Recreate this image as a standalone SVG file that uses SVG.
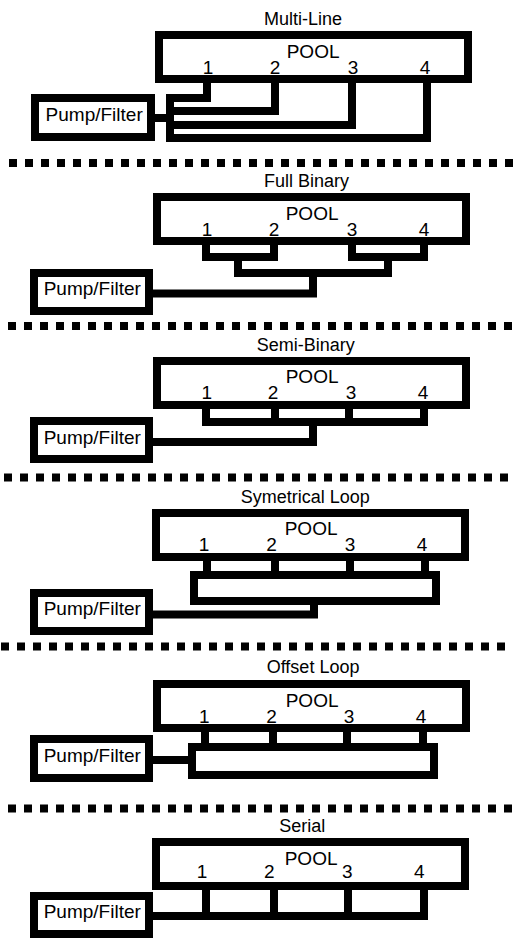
<svg xmlns="http://www.w3.org/2000/svg" width="520" height="938" viewBox="0 0 520 938">
<style>
.box{fill:none;stroke:#000;stroke-width:8}
.pipe{fill:none;stroke:#000;stroke-width:8;stroke-linejoin:miter;stroke-linecap:butt}
.sep{fill:none;stroke:#000;stroke-width:8;stroke-dasharray:8 8}
text{font-family:"Liberation Sans",Arial,sans-serif;font-size:19px;fill:#000}
.title{font-size:18px}
.d{text-anchor:middle}
</style>
<rect width="520" height="938" fill="#fff"/>
<g id="separators">
<line class="sep" x1="9" y1="163" x2="514" y2="163"/>
<line class="sep" x1="8" y1="326" x2="513" y2="326"/>
<line class="sep" x1="4" y1="477.500" x2="509" y2="477.500"/>
<line class="sep" x1="1" y1="646.500" x2="506" y2="646.500"/>
<line class="sep" x1="8" y1="808.500" x2="513" y2="808.500"/>
</g>
<g id="connectors">
<path class="pipe" d="M207 83V98H170V138H431M275 83V111H170M352 83V125H170M427 83V138M155 118H170"/>
<path class="pipe" d="M206 245V257H278M274 245V257M352 245V257H428M424 245V257M238 257V273H392M388 257V273M313 273V293.500H153"/>
<path class="pipe" d="M206 409V422H428M275 409V422M349 409V422M424 409V422M313 422V442H153"/>
<path class="pipe" d="M207 561V575M275 561V575M350 561V575M425 561V575M314 605V614.500H153"/>
<path class="pipe" d="M205 732V747M273 732V747M347 732V747M423 732V747M153 760H188"/>
<path class="pipe" d="M206 890V916M274 890V916M348 890V916M424 890V920M153 916H428"/>
</g>
<g id="multi-line">
<text class="title" x="264" y="25">Multi-Line</text>
<g id="pool-1"><rect class="box" x="159" y="35" width="309" height="44"/><text x="286.700" y="58.300">POOL</text>
<text class="d" x="208" y="74">1</text><text class="d" x="275" y="74">2</text><text class="d" x="353" y="74">3</text><text class="d" x="425" y="74">4</text></g>
<g id="pump-1"><rect class="box" x="35" y="98" width="116" height="39"/><text x="45.600" y="120.700">Pump/Filter</text></g>
</g>
<g id="full-binary">
<text class="title" x="264" y="187">Full Binary</text>
<g id="pool-2"><rect class="box" x="157" y="197" width="309" height="44"/><text x="285.700" y="220">POOL</text>
<text class="d" x="207" y="235.700">1</text><text class="d" x="274" y="235.700">2</text><text class="d" x="352" y="235.700">3</text><text class="d" x="424" y="235.700">4</text></g>
<g id="pump-2"><rect class="box" x="34" y="273" width="115" height="38"/><text x="43.700" y="295">Pump/Filter</text></g>
</g>
<g id="semi-binary">
<text class="title" x="256.700" y="351">Semi-Binary</text>
<g id="pool-3"><rect class="box" x="157" y="361" width="309" height="44"/><text x="285.700" y="382.700">POOL</text>
<text class="d" x="206.700" y="399">1</text><text class="d" x="273" y="399">2</text><text class="d" x="351" y="399">3</text><text class="d" x="423" y="399">4</text></g>
<g id="pump-3"><rect class="box" x="34" y="421" width="115" height="38"/><text x="43.700" y="444">Pump/Filter</text></g>
</g>
<g id="symetrical-loop">
<text class="title" x="240.700" y="502.700">Symetrical Loop</text>
<g id="pool-4"><rect class="box" x="156" y="513" width="309" height="44"/><text x="284.700" y="535">POOL</text>
<text class="d" x="204" y="551">1</text><text class="d" x="271.600" y="551">2</text><text class="d" x="350" y="551">3</text><text class="d" x="422" y="551">4</text></g>
<g id="loop-4"><rect class="box" x="194" y="575" width="242" height="26"/></g>
<g id="pump-4"><rect class="box" x="34" y="593" width="115" height="38"/><text x="43.700" y="615">Pump/Filter</text></g>
</g>
<g id="offset-loop">
<text class="title" x="266.700" y="673">Offset Loop</text>
<g id="pool-5"><rect class="box" x="157" y="684" width="309" height="44"/><text x="285.700" y="706.700">POOL</text>
<text class="d" x="204.300" y="722.700">1</text><text class="d" x="271.600" y="722.700">2</text><text class="d" x="349" y="722.700">3</text><text class="d" x="421" y="722.700">4</text></g>
<g id="loop-5"><rect class="box" x="192" y="747" width="242" height="28"/></g>
<g id="pump-5"><rect class="box" x="34" y="739" width="115" height="39"/><text x="43.700" y="761.700">Pump/Filter</text></g>
</g>
<g id="serial">
<text class="title" x="279.300" y="831.700">Serial</text>
<g id="pool-6"><rect class="box" x="156" y="842" width="309" height="44"/><text x="284.700" y="865">POOL</text>
<text class="d" x="202" y="878">1</text><text class="d" x="269.300" y="878">2</text><text class="d" x="347.300" y="878">3</text><text class="d" x="419.300" y="878">4</text></g>
<g id="pump-6"><rect class="box" x="34" y="896" width="115" height="38"/><text x="43.700" y="918">Pump/Filter</text></g>
</g>
</svg>
